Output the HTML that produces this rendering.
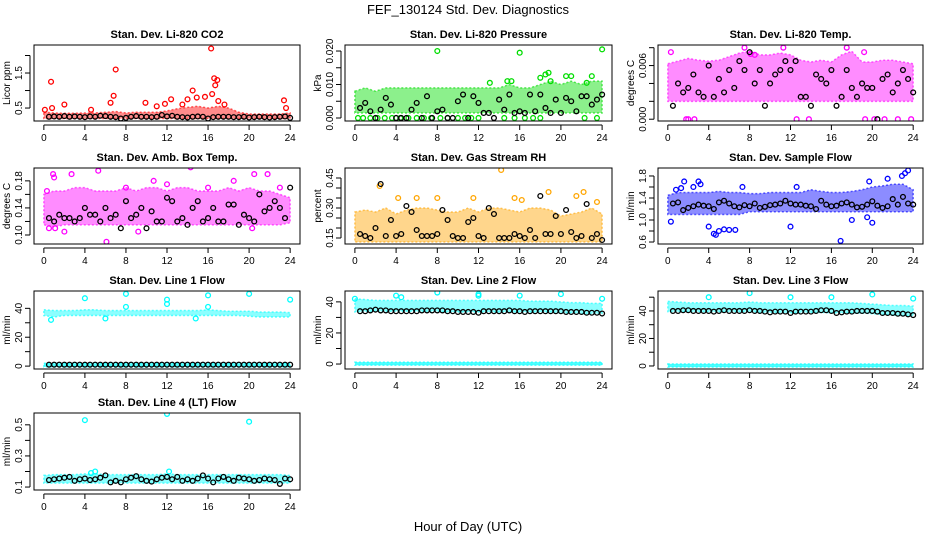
<!DOCTYPE html>
<html><head><meta charset="utf-8"><style>
body{margin:0;background:#fff}
svg{display:block;font-family:"Liberation Sans",sans-serif}
</style></head><body>
<svg id="c" width="936" height="540" viewBox="0 0 936 540" xmlns="http://www.w3.org/2000/svg">
<text x="468" y="14" text-anchor="middle" font-size="13">FEF_130124  Std. Dev. Diagnostics</text>
<text x="468" y="531" text-anchor="middle" font-size="13">Hour of Day (UTC)</text>
</svg>
<script>
const hrs=[0,1,2,3,4,5,6,7,8,9,10,11,12,13,14,15,16,17,18,19,20,21,22,23,24];
const hrsB=[0.5,1,1.5,2,2.5,3,3.5,4,4.5,5,5.5,6,6.5,7,7.5,8,8.5,9,9.5,10,10.5,11,11.5,12,12.5,13,13.5,14,14.5,15,15.5,16,16.5,17,17.5,18,18.5,19,19.5,20,20.5,21,21.5,22,22.5,23,23.5,24];
const xTicks=[0,4,8,12,16,20,24];

// Panel 1: CO2
const co2Lo=[0.2,0.2,0.2,0.2,0.2,0.2,0.2,0.2,0.2,0.2,0.2,0.2,0.2,0.2,0.2,0.2,0.2,0.2,0.2,0.2,0.2,0.2,0.2,0.2,0.2];
const co2Hi=[0.38,0.36,0.35,0.35,0.36,0.36,0.38,0.4,0.36,0.38,0.38,0.38,0.42,0.48,0.52,0.55,0.5,0.55,0.5,0.38,0.33,0.33,0.33,0.33,0.36];
const co2OutX=[0.7,7,6.8,6.5,2,9.9,11.8,12.4,13.5,14,14.5,14.9,15.7,16.3,16.6,16.9,16.7,16.4,17,17.6,23.4,23.6,0.8,4.6,11,0.1];
const co2OutY=[1.25,1.6,0.85,0.65,0.6,0.65,0.62,0.75,0.6,0.75,1.0,0.8,0.82,2.2,1.35,1.3,1.15,0.9,0.7,0.6,0.72,0.5,0.5,0.45,0.55,0.45];
const co2Blk=[0.25,0.26,0.25,0.27,0.25,0.26,0.25,0.24,0.26,0.25,0.28,0.27,0.25,0.24,0.2,0.22,0.25,0.27,0.25,0.25,0.24,0.25,0.3,0.26,0.28,0.25,0.24,0.23,0.25,0.26,0.25,0.2,0.24,0.25,0.25,0.25,0.24,0.24,0.25,0.23,0.24,0.25,0.24,0.23,0.24,0.25,0.26,0.22];
// Panel 2: Pressure
const prLo=[0.0015,0.0015,0.0015,0.0015,0.0015,0.0015,0.0015,0.0015,0.0015,0.0015,0.0015,0.0015,0.0015,0.0015,0.0015,0.0015,0.0015,0.0015,0.0015,0.0015,0.0015,0.0015,0.0015,0.0015,0.0015];
const prHi=[0.008,0.009,0.008,0.009,0.009,0.009,0.009,0.009,0.009,0.009,0.009,0.009,0.009,0.009,0.009,0.01,0.009,0.009,0.01,0.011,0.01,0.011,0.01,0.011,0.011];
const prOutX=[8,16,24,18.8,18.5,21,20.5,23,18,14.8,15.2,13.1,22.5,19,0.3,0.8,1.5,2.2,2.9,3.6,4.4,5.2,6,6.7,7.4,8.3,9,10,10.7,11.3,12,14.5,15.5,16.5,17.3,18,22.3,23.5];
const prOutY=[0.02,0.0195,0.0205,0.0135,0.013,0.0125,0.0125,0.0125,0.012,0.011,0.011,0.0105,0.0105,0.011,0,0,0,0,0,0,0,0,0,0,0,0,0,0,0,0,0,0,0,0,0,0,0,0];
const prBlk=[0.003,0.0045,0.002,0,0.0025,0.006,0.004,0,0,0,0.0025,0.0045,0,0.0065,0,0.002,0.0025,0,0,0.005,0.007,0,0.0065,0.0045,0.0015,0.0015,0,0.0055,0.0025,0.007,0.0015,0.002,0.0015,0.007,0.002,0.007,0.003,0.0015,0.0055,0.0015,0.006,0.005,0.002,0.0065,0.0065,0.004,0.0055,0.007];
// Panel 3: Temp
const tpLo=[0.002,0.002,0.002,0.002,0.002,0.002,0.002,0.002,0.002,0.002,0.002,0.002,0.002,0.002,0.002,0.002,0.002,0.002,0.002,0.002,0.002,0.002,0.002,0.002,0.002];
const tpHi=[0.0062,0.0065,0.0068,0.0066,0.0065,0.0066,0.007,0.0074,0.0076,0.0072,0.0072,0.0074,0.0072,0.0066,0.0064,0.0066,0.0064,0.0072,0.0076,0.0064,0.0064,0.0066,0.0066,0.0064,0.0062];
const tpOutX=[0.3,7.5,11.3,17.5,19.2,2,1.8,2.6,12.6,13.8,19.3,20.2,21.2,22.5,23.8,8.1,8.5];
const tpOutY=[0.0075,0.008,0.008,0.008,0.0075,0,0,0,0,0,0,0,0,0,0,0.0073,0.0072];
const tpBlk=[0.0015,0.004,0.003,0.0035,0.005,0.003,0.0025,0.006,0.0025,0.0045,0.003,0.0055,0.0035,0.0065,0.0055,0.0075,0.004,0.0055,0.0015,0.004,0.005,0.0055,0.0065,0.0055,0.0065,0.0025,0.0025,0.0015,0.005,0.0045,0.004,0.0055,0.0015,0.0025,0.0055,0.0035,0.0025,0.004,0.0035,0.0035,0,0.0045,0.005,0.003,0.004,0.0055,0.0045,0.003];
// Panel 4: Amb box temp
const amLo=[0.115,0.112,0.115,0.115,0.115,0.115,0.115,0.115,0.115,0.115,0.115,0.115,0.115,0.115,0.115,0.115,0.115,0.115,0.115,0.115,0.115,0.115,0.115,0.115,0.118];
const amHi=[0.16,0.165,0.165,0.17,0.17,0.165,0.165,0.165,0.17,0.165,0.17,0.17,0.165,0.17,0.17,0.165,0.165,0.165,0.17,0.165,0.17,0.165,0.165,0.16,0.155];
const amOutX=[0.3,0.9,1,2.7,5.3,6.1,2,9.2,10.7,14.3,21.8,20.5,18.5,0.5,1.1,16,23,20.3,12,8];
const amOutY=[0.165,0.19,0.185,0.19,0.195,0.09,0.105,0.105,0.18,0.2,0.19,0.19,0.18,0.11,0.11,0.17,0.17,0.11,0.175,0.17];
const amBlk=[0.125,0.12,0.13,0.125,0.125,0.12,0.125,0.14,0.13,0.13,0.12,0.14,0.125,0.13,0.11,0.15,0.125,0.13,0.14,0.11,0.135,0.12,0.12,0.155,0.15,0.12,0.125,0.115,0.14,0.15,0.12,0.125,0.14,0.12,0.12,0.145,0.145,0.115,0.13,0.125,0.12,0.16,0.135,0.14,0.15,0.14,0.125,0.17];
// Panel 5: RH
const rhLo=[0.13,0.13,0.13,0.13,0.13,0.13,0.13,0.13,0.13,0.13,0.13,0.13,0.13,0.13,0.13,0.13,0.13,0.13,0.13,0.13,0.13,0.13,0.13,0.13,0.13];
const rhHi=[0.28,0.29,0.28,0.3,0.27,0.29,0.3,0.3,0.29,0.28,0.28,0.3,0.28,0.3,0.3,0.29,0.28,0.3,0.3,0.29,0.26,0.27,0.28,0.3,0.27];
const rhOutX=[2.4,14.2,18.8,22.2,4.2,6,8,11.5,15.5,16.2,21.5,23.5];
const rhOutY=[0.41,0.49,0.38,0.38,0.35,0.35,0.35,0.35,0.35,0.34,0.36,0.33];
const rhBlk=[0.17,0.16,0.15,0.2,0.42,0.16,0.24,0.16,0.17,0.31,0.28,0.19,0.16,0.16,0.16,0.17,0.29,0.24,0.16,0.15,0.15,0.23,0.25,0.16,0.15,0.3,0.27,0.15,0.15,0.15,0.17,0.16,0.15,0.19,0.15,0.36,0.17,0.17,0.26,0.17,0.29,0.18,0.15,0.16,0.32,0.15,0.17,0.14];
// Panel 6: Sample flow
const sfLo=[1.1,1.1,1.1,1.1,1.1,1.1,1.1,1.1,1.15,1.15,1.15,1.15,1.15,1.15,1.15,1.15,1.15,1.15,1.15,1.15,1.15,1.15,1.15,1.15,1.15];
const sfHi=[1.45,1.5,1.5,1.5,1.5,1.52,1.5,1.5,1.48,1.48,1.5,1.5,1.5,1.5,1.55,1.52,1.5,1.5,1.52,1.55,1.6,1.62,1.65,1.65,1.55];
const sfOutX=[0.3,1.6,2.5,3,3.2,4,4.5,4.7,5,5.5,6,6.6,7.3,12,12.6,16.9,18,19.7,20,23.2,23.5,22.9,21.5,19.5,0.8,1.3];
const sfOutY=[0.97,1.7,1.6,1.7,1.65,0.88,0.75,0.73,0.8,0.83,0.82,0.82,1.6,0.88,1.6,0.62,1.0,1.7,0.95,1.85,1.9,1.8,1.75,1.05,1.55,1.58];
const sfBlk=[1.3,1.32,1.18,1.22,1.25,1.28,1.26,1.25,1.2,1.32,1.35,1.3,1.25,1.23,1.27,1.25,1.3,1.22,1.24,1.27,1.28,1.3,1.35,1.3,1.28,1.28,1.26,1.25,1.2,1.35,1.28,1.25,1.26,1.3,1.32,1.28,1.23,1.24,1.28,1.34,1.26,1.22,1.25,1.38,1.28,1.42,1.3,1.28];
// Panel 7: Line 1
const l1Lo=[35,34,35,35,35,35,35,35,35,35,35,35,35,35,35,35,35,35,35,35,34.5,34,34,34,34];
const l1Hi=[39,38.5,38.5,38.5,39,39,38.5,38.5,38.5,38.5,38.5,38.5,38.5,38.5,38.5,38.5,39,38.5,38,38,38,37.5,37.5,37.5,37];
const l1ZLo=[-0.5,-0.5,-0.5,-0.5,-0.5,-0.5,-0.5,-0.5,-0.5,-0.5,-0.5,-0.5,-0.5,-0.5,-0.5,-0.5,-0.5,-0.5,-0.5,-0.5,-0.5,-0.5,-0.5,-0.5,-0.5];
const l1ZHi=[2,2,2,2,2,2,2,2,2,2,2,2,2,2,2,2,2,2,2,2,2,2,2,2,2];
const l1OutX=[4,8,12,12,16,20,24,0.7,6,14.8,8,16];
const l1OutY=[47,50,46,43,49,50,46,32,33,33,41,41];
const l1Blk=[1,1,1,1,1,1,1,1,1,1,1,1,1,1,1,1,1,1,1,1,1,1,1,1,1,1,1,1,1,1,1,1,1,1,1,1,1,1,1,1,1,1,1,1,1,1,1,1];
// Panel 8: Line 2
const l2Lo=[33.5,34,34,34,34,34,34,34,34,33.5,33.5,33.5,33.5,33.5,33.5,33.5,33.5,33.5,33.5,33.5,33,33,32.5,32.5,32.5];
const l2Hi=[42,41.5,41,41,41,41,41,41,41,41,41,41,41,41,41,41,41,40.5,40.5,40.5,40,39.5,39.5,39,39];
const l2ZLo=[-0.8,-0.8,-0.8,-0.8,-0.8,-0.8,-0.8,-0.8,-0.8,-0.8,-0.8,-0.8,-0.8,-0.8,-0.8,-0.8,-0.8,-0.8,-0.8,-0.8,-0.8,-0.8,-0.8,-0.8,-0.8];
const l2ZHi=[1.2,1.2,1.2,1.2,1.2,1.2,1.2,1.2,1.2,1.2,1.2,1.2,1.2,1.2,1.2,1.2,1.2,1.2,1.2,1.2,1.2,1.2,1.2,1.2,1.2];
const l2OutX=[0,4,8,12,16,20,24,4.5,12];
const l2OutY=[42,44,46,45,44,45,42,43,44];
const l2Blk=[34,34,34.5,35,34.5,34.5,34,34,34,34,34,34,34.5,34.5,34.5,34.5,34.5,34,34,33.5,33.5,33.5,33.5,33,34,34,34,34,34,34.5,34,34,33.5,34,34,34,34,34,34,34,33.5,33.5,33.5,33.5,33,33,33,32.5];
// Panel 9: Line 3
const l3Lo=[39.5,39.5,39.5,39.5,39.5,39.5,39.5,39.5,39.5,39,39,39,38.5,39,39,39,38.5,38.5,38.5,38.5,38,37.5,37,36.5,36.5];
const l3Hi=[47,46.5,46,46,46,46,46,46,46.5,46,46,46,46,46,46,46,46,46,46,45.5,45,44.5,44,44,43.5];
const l3ZLo=[-0.8,-0.8,-0.8,-0.8,-0.8,-0.8,-0.8,-0.8,-0.8,-0.8,-0.8,-0.8,-0.8,-0.8,-0.8,-0.8,-0.8,-0.8,-0.8,-0.8,-0.8,-0.8,-0.8,-0.8,-0.8];
const l3ZHi=[1.5,1.5,1.5,1.5,1.5,1.5,1.5,1.5,1.5,1.5,1.5,1.5,1.5,1.5,1.5,1.5,1.5,1.5,1.5,1.5,1.5,1.5,1.5,1.5,1.5];
const l3OutX=[4,8,12,16,20,24];
const l3OutY=[50,53,50,50,52,49];
const l3Blk=[40,40,40.5,40.5,40,40,40,40,39.5,40,40.5,40,40,40,40,40.5,40,40,39.5,39,39.5,39.5,39.5,38.5,39.5,39.5,39.5,39.5,40,40.5,40.5,40,38.5,39,39.5,39.5,40,40,40,40,39.5,38.5,38.5,38.5,38,38,37.5,37];
// Panel 10: Line 4
const l4Lo=[0.125,0.125,0.125,0.125,0.125,0.125,0.125,0.125,0.125,0.125,0.125,0.125,0.125,0.125,0.125,0.125,0.125,0.125,0.125,0.125,0.125,0.125,0.125,0.125,0.125];
const l4Hi=[0.175,0.18,0.18,0.18,0.185,0.185,0.18,0.18,0.18,0.18,0.18,0.18,0.185,0.18,0.18,0.18,0.18,0.18,0.18,0.18,0.18,0.18,0.18,0.18,0.175];
const l4OutX=[4,12,20,12.2,5,4.6];
const l4OutY=[0.53,0.57,0.52,0.2,0.2,0.19];
const l4Blk=[0.145,0.15,0.155,0.16,0.165,0.14,0.15,0.155,0.145,0.15,0.16,0.175,0.13,0.14,0.13,0.15,0.16,0.17,0.15,0.14,0.135,0.15,0.16,0.165,0.15,0.165,0.14,0.15,0.14,0.155,0.175,0.155,0.13,0.155,0.165,0.15,0.14,0.16,0.155,0.15,0.14,0.145,0.155,0.15,0.145,0.12,0.155,0.15];

const panels=[
 {name:'co2',title:'Stan. Dev. Li-820 CO2',yl:'Licor ppm',x1:34,x2:300,y1:45,y2:121,ymin:0.13,ymax:2.3,ticks:[0.5,1,1.5,2],labs:['0.5','','1.5',''],col:'#ff0000',lo:co2Lo,hi:co2Hi,ox:co2OutX,oy:co2OutY,bk:co2Blk},
 {name:'pressure',title:'Stan. Dev. Li-820 Pressure',yl:'kPa',x1:345,x2:612,y1:45,y2:121,ymin:-0.0009,ymax:0.0218,ticks:[0,0.005,0.01,0.015,0.02],labs:['0.000','','0.010','','0.020'],col:'#00dd00',lo:prLo,hi:prHi,ox:prOutX,oy:prOutY,bk:prBlk},
 {name:'temp',title:'Stan. Dev. Li-820 Temp.',yl:'degrees C',x1:658,x2:923,y1:45,y2:121,ymin:-0.0002,ymax:0.0083,ticks:[0,0.002,0.004,0.006,0.008],labs:['0.000','','','0.006',''],col:'#ff00ff',lo:tpLo,hi:tpHi,ox:tpOutX,oy:tpOutY,bk:tpBlk},
 {name:'amb-box-temp',title:'Stan. Dev. Amb. Box Temp.',yl:'degrees C',x1:34,x2:300,y1:168,y2:244,ymin:0.0867,ymax:0.199,ticks:[0.1,0.12,0.14,0.16,0.18],labs:['0.10','','0.14','','0.18'],col:'#ff00ff',lo:amLo,hi:amHi,ox:amOutX,oy:amOutY,bk:amBlk},
 {name:'gas-rh',title:'Stan. Dev. Gas Stream RH',yl:'percent',x1:345,x2:612,y1:168,y2:244,ymin:0.12,ymax:0.5,ticks:[0.15,0.2,0.25,0.3,0.35,0.4,0.45],labs:['0.15','','','0.30','','','0.45'],col:'#ffa500',lo:rhLo,hi:rhHi,ox:rhOutX,oy:rhOutY,bk:rhBlk},
 {name:'sample-flow',title:'Stan. Dev. Sample Flow',yl:'ml/min',x1:658,x2:923,y1:168,y2:244,ymin:0.564,ymax:1.945,ticks:[0.6,0.8,1,1.2,1.4,1.6,1.8],labs:['0.6','','1.0','','1.4','','1.8'],col:'#0000ff',lo:sfLo,hi:sfHi,ox:sfOutX,oy:sfOutY,bk:sfBlk},
 {name:'line1-flow',title:'Stan. Dev. Line 1 Flow',yl:'ml/min',x1:34,x2:300,y1:291,y2:369,ymin:-2,ymax:52,ticks:[0,10,20,30,40],labs:['0','','20','','40'],col:'#00ffff',lo:l1Lo,hi:l1Hi,zl:l1ZLo,zh:l1ZHi,ox:l1OutX,oy:l1OutY,bk:l1Blk},
 {name:'line2-flow',title:'Stan. Dev. Line 2 Flow',yl:'ml/min',x1:345,x2:612,y1:291,y2:369,ymin:-3.2,ymax:47,ticks:[0,10,20,30,40],labs:['0','','20','','40'],col:'#00ffff',lo:l2Lo,hi:l2Hi,zl:l2ZLo,zh:l2ZHi,ox:l2OutX,oy:l2OutY,bk:l2Blk},
 {name:'line3-flow',title:'Stan. Dev. Line 3 Flow',yl:'ml/min',x1:658,x2:923,y1:291,y2:369,ymin:-2.2,ymax:54.5,ticks:[0,10,20,30,40,50],labs:['0','','20','','40',''],col:'#00ffff',lo:l3Lo,hi:l3Hi,zl:l3ZLo,zh:l3ZHi,ox:l3OutX,oy:l3OutY,bk:l3Blk},
 {name:'line4-flow',title:'Stan. Dev. Line 4 (LT) Flow',yl:'ml/min',x1:34,x2:300,y1:413,y2:490,ymin:0.081,ymax:0.576,ticks:[0.1,0.2,0.3,0.4,0.5],labs:['0.1','','0.3','','0.5'],col:'#00ffff',lo:l4Lo,hi:l4Hi,ox:l4OutX,oy:l4OutY,bk:l4Blk}
];
const svg=document.getElementById('c');
const NS='http://www.w3.org/2000/svg';
function mk(tag,attrs,parent){const e=document.createElementNS(NS,tag);for(const k in attrs)e.setAttribute(k,attrs[k]);(parent||svg).appendChild(e);return e;}
panels.forEach(p=>{
 const g=mk('g',{});
 
 
 const xs=h=>p.x1+(h+0.96)/25.92*(p.x2-p.x1);
 const ys=v=>p.y2-(v-p.ymin)/(p.ymax-p.ymin)*(p.y2-p.y1);
 const clipId='clip-'+p.name;
 const cp=mk('clipPath',{id:clipId},g);
 mk('rect',{x:p.x1,y:p.y1,width:p.x2-p.x1,height:p.y2-p.y1},cp);
 const plot=mk('g',{'clip-path':'url(#'+clipId+')'},g);
 function band(lo,hi,nm,op){
  let d='M'+hrs.map((h,i)=>xs(h)+','+ys(hi[i])).join(' L')+' L'+hrs.slice().reverse().map((h,j)=>{const i=hrs.length-1-j;return xs(h)+','+ys(lo[i]);}).join(' L')+'Z';
  const b=mk('path',{d:d,fill:p.col,'fill-opacity':op,stroke:p.col,'stroke-width':1.5,'stroke-opacity':0.6,'stroke-dasharray':'2 2'},plot);
  
  
 }
 band(p.lo,p.hi,p.name+'-dense-band',0.45);
 if(p.zl) band(p.zl,p.zh,p.name+'-zero-band',0.7);
 p.ox.forEach((x,i)=>{
  const c=mk('circle',{cx:xs(x),cy:ys(p.oy[i]),r:2.4,fill:'none',stroke:p.col,'stroke-width':1.3},plot);
  
  
 });
 p.bk.forEach((v,i)=>{
  const c=mk('circle',{cx:xs(hrsB[i]),cy:ys(v),r:2.4,fill:'none',stroke:'#000','stroke-width':1.3},plot);
  
  
 });
 const box=mk('rect',{x:p.x1,y:p.y1,width:p.x2-p.x1,height:p.y2-p.y1,fill:'none',stroke:'#000','stroke-width':1},g);
 
 
 const t=mk('text',{x:(p.x1+p.x2)/2,y:p.y1-7,'text-anchor':'middle','font-size':11,'font-weight':'bold'},g);
 t.textContent=p.title;
 
 
 mk('line',{x1:xs(0),x2:xs(24),y1:p.y2+4,y2:p.y2+4,stroke:'#000'},g);
 xTicks.forEach(h=>{
  mk('line',{x1:xs(h),x2:xs(h),y1:p.y2+4,y2:p.y2+9,stroke:'#000'},g);
  const l=mk('text',{x:xs(h),y:p.y2+20,'text-anchor':'middle','font-size':10},g);
  l.textContent=h;
  
  
 });
 const t0=p.ticks[0],t1=p.ticks[p.ticks.length-1];
 mk('line',{x1:p.x1-4,x2:p.x1-4,y1:ys(t0),y2:ys(t1),stroke:'#000'},g);
 p.ticks.forEach((v,i)=>{
  mk('line',{x1:p.x1-9,x2:p.x1-4,y1:ys(v),y2:ys(v),stroke:'#000'},g);
  if(p.labs[i]){
   const l=mk('text',{x:0,y:0,'text-anchor':'middle','font-size':10,transform:'translate('+(p.x1-12)+','+ys(v)+') rotate(-90)'},g);
   l.textContent=p.labs[i];
   
   
  }
 });
 const yl=mk('text',{x:0,y:0,'text-anchor':'middle','font-size':10,transform:'translate('+(p.x1-24)+','+((p.y1+p.y2)/2)+') rotate(-90)'},g);
 yl.textContent=p.yl;
 
 
});
</script>
</body></html>
